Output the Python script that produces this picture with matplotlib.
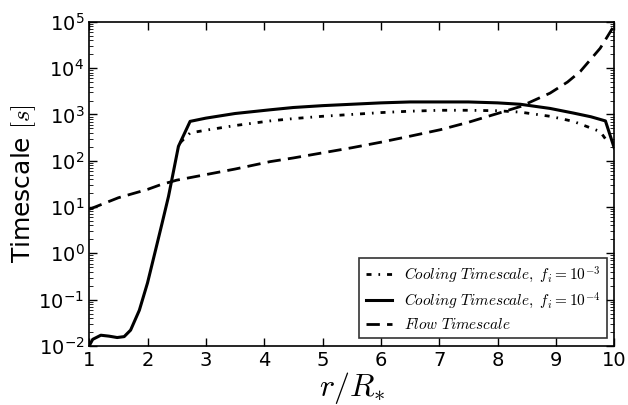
import numpy as np
import matplotlib
matplotlib.use('Agg')
import matplotlib.pyplot as plt

plt.rcParams['mathtext.fontset'] = 'cm'
plt.rcParams['xtick.direction'] = 'in'
plt.rcParams['ytick.direction'] = 'in'
plt.rcParams['xtick.top'] = True
plt.rcParams['ytick.right'] = True

# Flow timescale (log10 of seconds) vs r/R*
r_flow = [1.0, 1.5, 2.0, 2.22, 2.5, 3.0, 3.5, 4.1, 4.5, 5.0, 5.5, 6.0, 6.5, 7.02, 7.5, 7.76, 8.0, 8.39, 8.9, 9.2, 9.42, 9.76, 10.0]
log_flow = [0.95, 1.2, 1.38, 1.48, 1.58, 1.7, 1.82, 1.98, 2.06, 2.17, 2.28, 2.4, 2.53, 2.67, 2.83, 2.93, 3.02, 3.17, 3.46, 3.7, 3.93, 4.43, 4.92]

# Cooling timescale, f_i = 1e-4
r_c4 = [1.0, 1.06, 1.2, 1.34, 1.48, 1.6, 1.71, 1.86, 2.0, 2.14, 2.25, 2.36, 2.45, 2.53, 2.73,
        3.0, 3.5, 4.1, 4.5, 5.0, 5.5, 6.0, 6.5, 7.02, 7.5, 8.0, 8.39, 8.9, 9.3, 9.6, 9.85, 10.0]
log_c4 = [-2.0, -1.86, -1.77, -1.79, -1.82, -1.8, -1.66, -1.23, -0.64, 0.08, 0.65, 1.23, 1.8, 2.31, 2.85,
          2.92, 3.02, 3.1, 3.15, 3.19, 3.22, 3.25, 3.27, 3.27, 3.27, 3.25, 3.22, 3.13, 3.03, 2.95, 2.86, 2.28]

# Cooling timescale, f_i = 1e-3
r_c3 = [2.56, 2.73, 3.0, 3.5, 4.1, 4.5, 5.0, 5.5, 6.0, 6.5, 7.02, 7.5, 8.0, 8.39, 8.9, 9.3, 9.76, 9.88]
log_c3 = [2.39, 2.6, 2.66, 2.76, 2.86, 2.91, 2.96, 3.0, 3.04, 3.07, 3.09, 3.09, 3.08, 3.05, 2.96, 2.85, 2.63, 2.42]

fig = plt.figure(figsize=(6.28, 4.05), dpi=100)
ax = fig.add_axes([0.142, 0.146, 0.836, 0.8])

ax.plot(r_c3, 10**np.array(log_c3), color='k', lw=2, dashes=[1.8, 2.5, 0.6, 2.5],
        label=r'$Cooling\ Timescale,\ f_i=10^{-3}$')
ax.plot(r_c4, 10**np.array(log_c4), color='k', lw=2.2, ls='-',
        label=r'$Cooling\ Timescale,\ f_i=10^{-4}$')
ax.plot(r_flow, 10**np.array(log_flow), color='k', lw=2, dashes=[4.8, 2.6],
        label=r'$Flow\ Timescale$')

ax.set_yscale('log')
ax.set_xlim(1, 10)
ax.set_ylim(1e-2, 1e5)
ax.set_xticks(range(1, 11))
ax.tick_params(labelsize=14, length=6, width=1)
ax.tick_params(which='minor', length=3)
ax.set_xlabel(r'$r/R_{*}$', fontsize=23, labelpad=0)
ax.set_ylabel(r'Timescale $[s]$', fontsize=18, labelpad=0)
for s in ax.spines.values():
    s.set_linewidth(1.2)

leg = ax.legend(loc='lower right', fontsize=11, fancybox=False, borderaxespad=0.5,
                handlelength=1.7, labelspacing=0.4)
leg.get_frame().set_edgecolor('k')
leg.get_frame().set_linewidth(1.2)

fig.savefig('out.png', dpi=100)
